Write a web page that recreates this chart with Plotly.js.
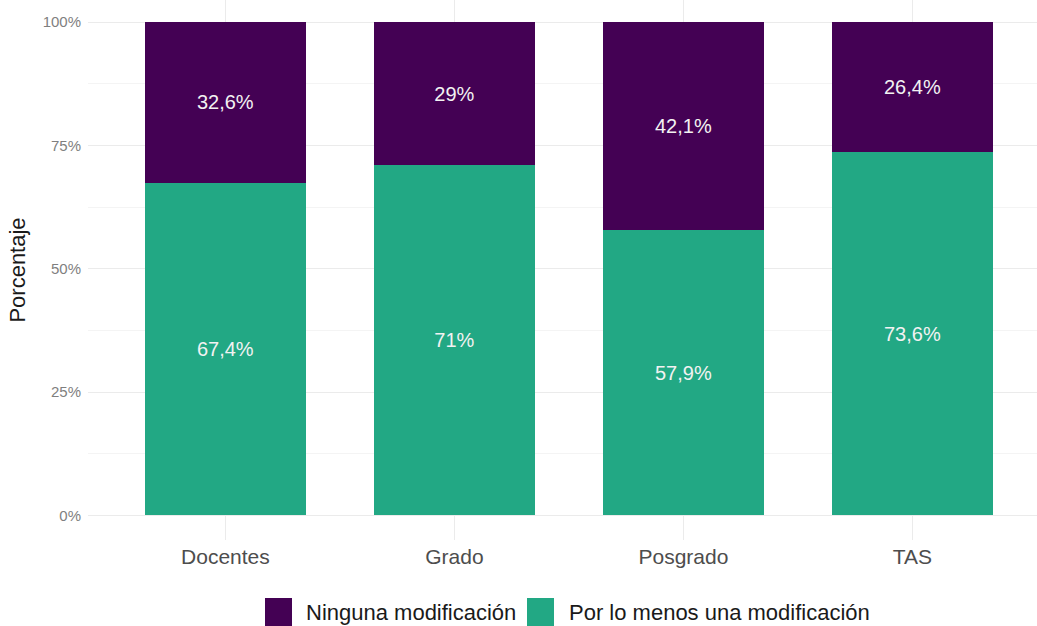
<!DOCTYPE html>
<html>
<head>
<meta charset="utf-8">
<script src="https://cdn.plot.ly/plotly-3.0.1.min.js"></script>
<style>html,body{margin:0;padding:0;background:#fff;}#chart{width:1037px;height:626px;}</style>
</head>
<body>
<div id="chart"></div>
<script>
const categories = ["Docentes", "Grado", "Posgrado", "TAS"];
const seriesNames = ["Por lo menos una modificación", "Ninguna modificación"];
const porLoMenos = [67.4, 71, 57.9, 73.6];
const ninguna = [32.6, 29, 42.1, 26.4];
const porLoMenosLabels = ["67,4%", "71%", "57,9%", "73,6%"];
const ningunaLabels = ["32,6%", "29%", "42,1%", "26,4%"];
const yTickVals = [0, 0.25, 0.5, 0.75, 1];
const yTickText = ["0%", "25%", "50%", "75%", "100%"];

const colors = {por: "#22A884", ninguna: "#440154"};
const FONT = "Liberation Sans, Arial, sans-serif";

const W = 1037, H = 626;
const M = {l: 88, r: 0, t: 0, b: 86};
const PW = W - M.l - M.r, PH = H - M.t - M.b;
const px2x = p => (p - M.l) / PW;
const py2y = p => (PH + M.t - p) / PH;

const common = {
  type: "bar",
  x: categories,
  textposition: "inside",
  insidetextanchor: "middle",
  constraintext: "none",
  textfont: {family: FONT, size: 20, color: "#f2f2f2"},
  hoverinfo: "none",
  showlegend: false
};

const traces = [
  Object.assign({}, common, {
    name: seriesNames[0],
    y: porLoMenos.map(v => v / 100),
    text: porLoMenosLabels,
    marker: {color: colors.por}
  }),
  Object.assign({}, common, {
    name: seriesNames[1],
    y: ninguna.map(v => v / 100),
    text: ningunaLabels,
    marker: {color: colors.ninguna}
  })
];

// custom legend (bottom, centred)
const legendItems = [
  {name: seriesNames[1], color: colors.ninguna, keyX: 265, textX: 304},
  {name: seriesNames[0], color: colors.por, keyX: 527, textX: 567}
];
const shapes = [];
const annotations = [];
legendItems.forEach(it => {
  shapes.push({
    type: "rect", xref: "paper", yref: "paper",
    x0: px2x(it.keyX), x1: px2x(it.keyX + 27),
    y0: py2y(626), y1: py2y(598),
    fillcolor: it.color, line: {width: 0}
  });
  annotations.push({
    xref: "paper", yref: "paper",
    x: px2x(it.textX), y: py2y(612),
    xanchor: "left", yanchor: "middle",
    text: it.name, showarrow: false,
    font: {family: FONT, size: 22, color: "#1a1a1a"}
  });
});

const layout = {
  width: W,
  height: H,
  barmode: "stack",
  bargap: 0.3,
  paper_bgcolor: "#ffffff",
  plot_bgcolor: "#ffffff",
  margin: Object.assign({autoexpand: false}, M),
  showlegend: false,
  shapes: shapes,
  annotations: annotations,
  xaxis: {
    type: "category",
    range: [-0.6, 3.544],
    showgrid: true,
    gridcolor: "#ebebeb",
    gridwidth: 1,
    zeroline: false,
    showline: false,
    ticks: "",
    tickfont: {family: FONT, size: 21, color: "#4d4d4d"},
    ticklabelstandoff: 2,
    automargin: false
  },
  yaxis: {
    range: [-0.05, 1.0446],
    tickvals: yTickVals,
    ticktext: yTickText,
    showgrid: true,
    gridcolor: "#ebebeb",
    gridwidth: 1,
    zeroline: false,
    showline: false,
    ticks: "",
    ticklabelstandoff: 6,
    automargin: false,
    tickfont: {family: FONT, size: 15, color: "#7f7f7f"},
    minor: {tickvals: [0.125, 0.375, 0.625, 0.875], showgrid: true, gridcolor: "#f4f4f4", gridwidth: 1},
    title: {text: "Porcentaje", font: {family: FONT, size: 22, color: "#1a1a1a"}, standoff: 10}
  }
};

Plotly.newPlot("chart", traces, layout, {displayModeBar: false, staticPlot: true});
</script>
</body>
</html>
